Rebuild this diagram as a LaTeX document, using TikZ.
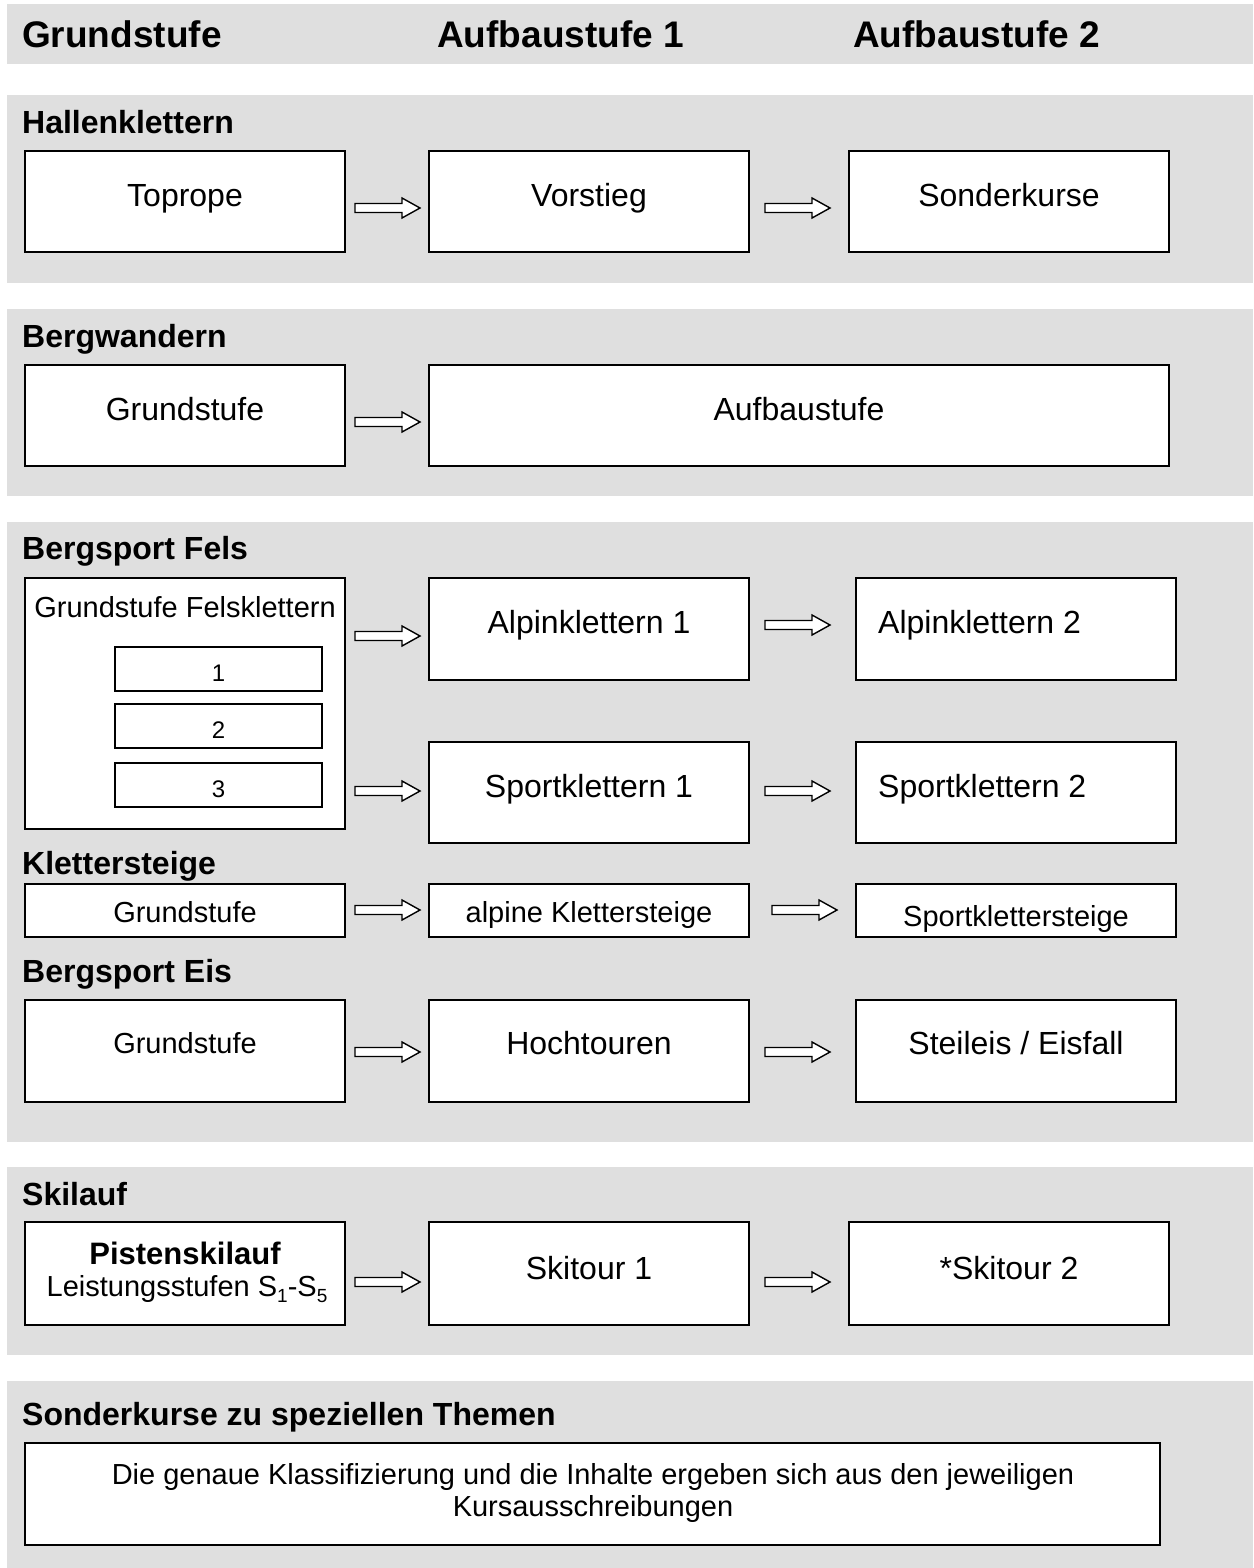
\documentclass[tikz,border=0pt]{standalone}
\usepackage{fontspec}
\setmainfont{Liberation Sans}
\definecolor{bandgray}{RGB}{223,223,223}
\newcommand\fs[1]{\fontsize{#1}{#1}\selectfont}
\newcommand\subnum[1]{\raisebox{-0.22em}{\fs{19}#1}}
% box: name, x, y (top-left), width, height
\newcommand\bx[5]{\node[box, anchor=north west, minimum width=#4, minimum height=#5] (#1) at (#2,#3) {};}
% block arrow: x start, y centre
\newcommand\blockarr[2]{\draw[arrowshape] (#1,#2-4.5) -- ++(47,0) -- ++(0,-5.5) -- ++(18,10) -- ++(-18,10) -- ++(0,-5.5) -- ++(-47,0) -- cycle;}
\begin{document}
\begin{tikzpicture}[x=1pt,y=-1pt,
  band/.style={fill=bandgray, draw=none},
  box/.style={draw=black, line width=1.5pt, fill=white, inner sep=0pt, outer sep=0pt},
  arrowshape/.style={draw=black, line width=1.4pt, fill=white, line join=miter},
  head/.style={inner sep=0pt, anchor=base west, font=\fs{37}\bfseries},
  ttl/.style={inner sep=0pt, anchor=base west, font=\fs{32}\bfseries},
  t/.style={inner sep=0pt, anchor=base, font=\fs{32}},
  ts/.style={inner sep=0pt, anchor=base, font=\fs{29}},
  tn/.style={inner sep=0pt, anchor=base, font=\fs{24}}]
\useasboundingbox (0,0) rectangle (1253,1568);
% bands
\fill[band] (7,4) rectangle (1253,64);
\fill[band] (7,95) rectangle (1253,283);
\fill[band] (7,309) rectangle (1253,496);
\fill[band] (7,522) rectangle (1253,1142);
\fill[band] (7,1167) rectangle (1253,1355);
\fill[band] (7,1381) rectangle (1253,1568);
% header
\node[head] (h1) at (22,48) {Grundstufe};
\node[head] (h2) at (437,48) {Aufbaustufe 1};
\node[head] (h3) at (853,48) {Aufbaustufe 2};
% section titles
\node[ttl] (t1) at (22,133.5) {Hallenklettern};
\node[ttl] (t2) at (22,347.5) {Bergwandern};
\node[ttl] (t3) at (22,559.5) {Bergsport Fels};
\node[ttl] (t4) at (22,874.5) {Klettersteige};
\node[ttl] (t5) at (22,982.5) {Bergsport Eis};
\node[ttl] (t6) at (22,1205.5) {Skilauf};
\node[ttl] (t7) at (22,1425.5) {Sonderkurse zu speziellen Themen};
% Hallenklettern
\bx{hT}{25}{151}{320}{101}
\bx{hV}{429}{151}{320}{101}
\bx{hS}{849}{151}{320}{101}
\node[t] (hTt) at (185,206.5) {Toprope};
\node[t] (hVt) at (589,206.5) {Vorstieg};
\node[t] (hSt) at (1009,206.5) {Sonderkurse};
\blockarr{355}{208}
\blockarr{765}{208}
% Bergwandern
\bx{bG}{25}{365}{320}{101}
\bx{bA}{429}{365}{740}{101}
\node[t] (bGt) at (185,420.5) {Grundstufe};
\node[t] (bAt) at (799,420.5) {Aufbaustufe};
\blockarr{355}{422}
% Bergsport Fels
\bx{fG}{25}{578}{320}{251}
\bx{f1}{115}{647}{207}{44}
\bx{f2}{115}{704}{207}{44}
\bx{f3}{115}{763}{207}{44}
\node[ts] (fGt) at (185,617.5) {Grundstufe Felsklettern};
\node[tn] (f1t) at (218.5,681.5) {1};
\node[tn] (f2t) at (218.5,738.5) {2};
\node[tn] (f3t) at (218.5,797.5) {3};
\bx{fA1}{429}{578}{320}{102}
\bx{fA2}{856}{578}{320}{102}
\bx{fS1}{429}{742}{320}{101}
\bx{fS2}{856}{742}{320}{101}
\node[t] (fA1t) at (589,633.5) {Alpinklettern 1};
\node[t, anchor=base west] (fA2t) at (878,633.5) {Alpinklettern 2};
\node[t] (fS1t) at (589,797.5) {Sportklettern 1};
\node[t, anchor=base west] (fS2t) at (878,797.5) {Sportklettern 2};
\blockarr{355}{636}
\blockarr{765}{625}
\blockarr{355}{791}
\blockarr{765}{791}
% Klettersteige
\bx{kG}{25}{884}{320}{53}
\bx{kA}{429}{884}{320}{53}
\bx{kS}{856}{884}{320}{53}
\node[ts] (kGt) at (185,922.5) {Grundstufe};
\node[ts] (kAt) at (589,922.5) {alpine Klettersteige};
\begin{scope}
\clip (857,885) rectangle (1175,936);
\node[ts] (kSt) at (1016,926) {Sportklettersteige};
\end{scope}
\blockarr{355}{910}
\blockarr{772}{910}
% Bergsport Eis
\bx{eG}{25}{1000}{320}{102}
\bx{eH}{429}{1000}{320}{102}
\bx{eS}{856}{1000}{320}{102}
\node[ts] (eGt) at (185,1053.5) {Grundstufe};
\node[t] (eHt) at (589,1054.5) {Hochtouren};
\node[t] (eSt) at (1016,1054.5) {Steileis / Eisfall};
\blockarr{355}{1052}
\blockarr{765}{1052}
% Skilauf
\bx{sP}{25}{1222}{320}{103}
\bx{sT1}{429}{1222}{320}{103}
\bx{sT2}{849}{1222}{320}{103}
\node[t, font=\fs{31}\bfseries] (sPt) at (185,1264) {Pistenskilauf};
\node[ts] (sLt) at (187,1296.5) {Leistungsstufen S\subnum{1}-S\subnum{5}};
\node[t] (sT1t) at (589,1279.5) {Skitour 1};
\node[t] (sT2t) at (1009,1279.5) {*Skitour 2};
\blockarr{355}{1282}
\blockarr{765}{1282}
% Sonderkurse
\bx{sk}{25}{1443}{1135}{102}
\node[ts] (sk1) at (593,1484.5) {Die genaue Klassifizierung und die Inhalte ergeben sich aus den jeweiligen};
\node[ts] (sk2) at (593,1516.5) {Kursausschreibungen};
\end{tikzpicture}
\end{document}
